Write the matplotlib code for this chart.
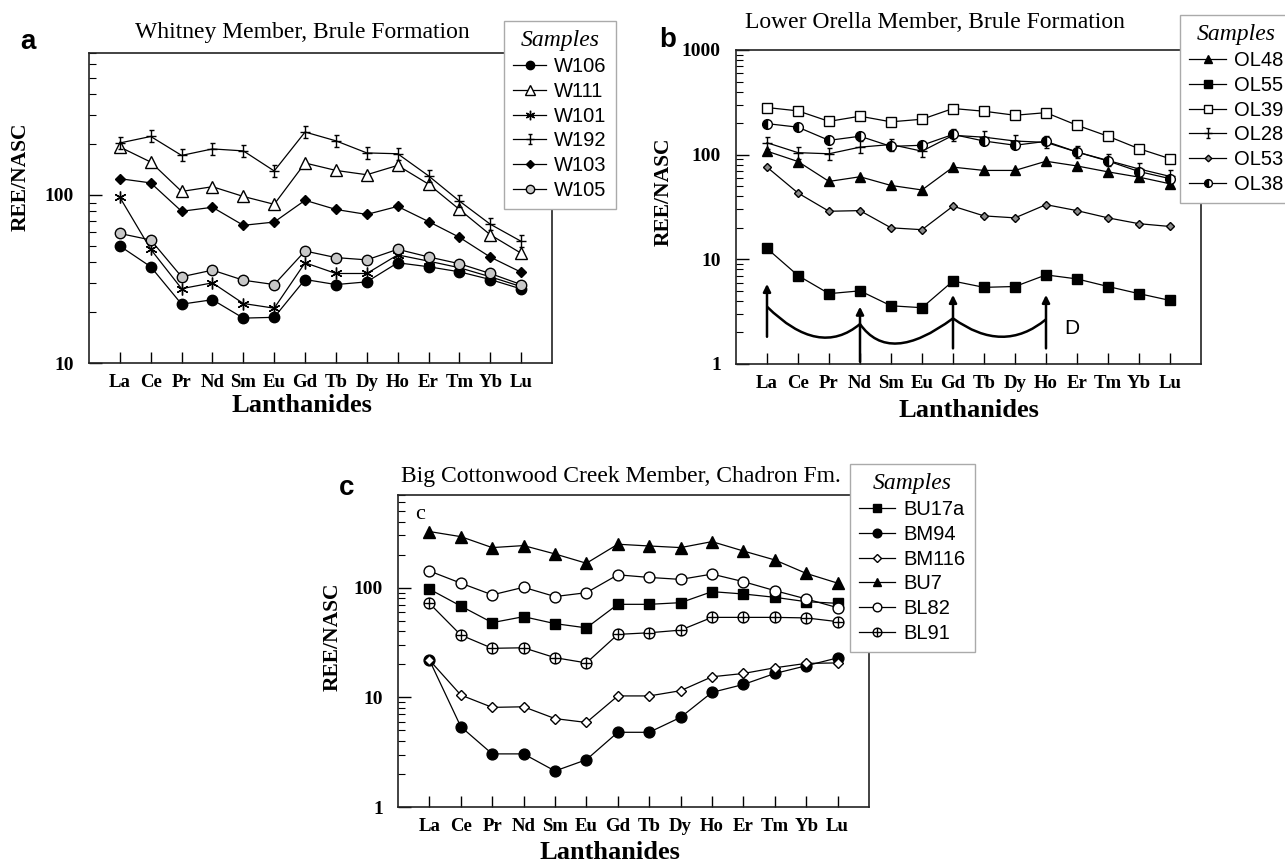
import numpy as np
import matplotlib
matplotlib.use('Agg')
import matplotlib.pyplot as plt
from matplotlib.path import Path
from matplotlib.patches import PathPatch
from matplotlib.ticker import LogLocator, NullFormatter

# ---------------- data ----------------
elements = ['La', 'Ce', 'Pr', 'Nd', 'Sm', 'Eu', 'Gd', 'Tb', 'Dy', 'Ho', 'Er', 'Tm', 'Yb', 'Lu']

# Panel a: Whitney Member, Brule Formation
W106 = [49.7, 37.4, 22.4, 23.8, 18.5, 18.7, 31.4, 29.3, 30.4, 39.5, 37.4, 34.9, 31.4, 27.6]
W111 = [193, 157, 105, 112, 98, 88, 155, 140, 132, 150, 116, 82, 58, 45]
W101 = [96.8, 47.5, 27.7, 30, 22.6, 21.2, 39.5, 34.1, 34.1, 44, 40.4, 36.9, 32.6, 28.5]
W192 = [204, 223, 172, 188, 183, 139, 237, 210, 178, 176, 130, 92, 67, 53]
W103 = [125, 118, 80, 84.5, 66, 69, 93, 82, 76.6, 85.5, 69.5, 56, 42.7, 34.7]
W105 = [59, 54, 32.6, 35.7, 31.1, 29.3, 46.4, 42.4, 41.1, 47.5, 42.8, 39, 34.1, 29.3]

# Panel b: Lower Orella Member, Brule Formation
OL48 = [108, 86, 55.5, 61.5, 50.8, 46, 76, 70.7, 70.7, 86.5, 78, 68.5, 61, 52.7]
OL55 = [12.7, 7.0, 4.7, 5.0, 3.6, 3.45, 6.2, 5.4, 5.5, 7.1, 6.5, 5.5, 4.7, 4.05]
OL39 = [282, 262, 208, 233, 206, 218, 276, 260, 238, 252, 191, 150, 114, 91.5]
OL28 = [130, 104.5, 102, 118, 125, 108, 153, 147, 135, 131, 106, 88, 73, 62]
OL53 = [76, 43, 28.8, 29.2, 20, 19.2, 32.2, 26, 24.9, 33.3, 29.2, 24.9, 21.9, 20.6]
OL38 = [198, 183, 137, 150, 120, 123, 156, 135, 123, 134, 106, 87, 69, 59]

# Panel c: Big Cottonwood Creek Member, Chadron Fm.
BU17a = [97, 68, 48, 54.4, 47, 43, 70.5, 70.5, 73, 92, 87.6, 81.7, 74.5, 72]
BM94 = [21.9, 5.4, 3.05, 3.05, 2.13, 2.7, 4.8, 4.8, 6.57, 11.1, 13.1, 16.5, 19.4, 22.9]
BM116 = [21.9, 10.5, 8.1, 8.2, 6.4, 5.9, 10.3, 10.3, 11.5, 15.4, 16.5, 18.6, 20.4, 20.6]
BU7 = [325, 292, 232, 242, 203, 167, 249, 240, 232, 263, 216, 179, 135, 110]
BL82 = [142, 110, 86, 100.8, 83, 90, 131, 124, 119, 133, 113.5, 94, 79, 65.7]
BL91 = [72, 37, 28, 28.3, 23, 20.6, 37.5, 38.8, 41, 53.6, 53.6, 53.6, 53, 49]

# Tetrad-effect sketch ("D") in panel b
tetrad_peak_idx = [0, 3, 6, 9]            # La, Nd, Gd, Ho
tetrad_peak_val = [3.53, 2.41, 2.73, 2.67]
tetrad_trough_pos = [1.59, 4.22, 7.56]
tetrad_trough_val = [1.82, 1.57, 1.82]
arrow_bottom = [1.82, 1.05, 1.41, 1.41]
arrow_top = [5.82, 3.53, 4.57, 4.57]

titles = ['Whitney Member, Brule Formation',
          'Lower Orella Member, Brule Formation',
          'Big Cottonwood Creek Member, Chadron Fm.']

# ---------------- style ----------------
SERIF = 'Liberation Serif'
SANS = 'Liberation Sans'
plt.rcParams['font.family'] = [SERIF, 'DejaVu Serif']

W, H = 1285, 867
fig = plt.figure(figsize=(W / 100, H / 100), dpi=100)
fig.patch.set_facecolor('white')


def px_axes(l, t, r, b):
    return fig.add_axes([l / W, 1 - b / H, (r - l) / W, (b - t) / H])


axA = px_axes(89, 53, 552, 363)
axB = px_axes(736, 50, 1201, 364)
axC = px_axes(398, 495, 869, 807)

# custom markers
errcross = Path([(0, -1), (0, 1), (-0.4, 1), (0.4, 1), (-0.4, -1), (0.4, -1), (-0.85, 0), (0.85, 0)],
                [Path.MOVETO, Path.LINETO] * 4)
circplus = Path.make_compound_path(Path.unit_circle(),
                                   Path([(-1, 0), (1, 0)], [Path.MOVETO, Path.LINETO]),
                                   Path([(0, -1), (0, 1)], [Path.MOVETO, Path.LINETO]))
asterisk = (6, 2, 0)

x = np.arange(len(elements))


def draw(ax, vals, label, marker, ms, fc, fcalt=None, fillstyle='full'):
    kw = dict(color='black', lw=0.9, marker=marker, ms=ms, mfc=fc, mec='black',
              mew=1.0, label=label, fillstyle=fillstyle)
    if fcalt is not None:
        kw['markerfacecoloralt'] = fcalt
    ax.plot(x, vals, **kw)


# panel a
draw(axA, W106, 'W106', 'o', 7.5, 'black')
draw(axA, W111, 'W111', '^', 8.5, 'white')
draw(axA, W101, 'W101', asterisk, 8.5, 'black')
draw(axA, W192, 'W192', errcross, 9, 'none')
draw(axA, W103, 'W103', 'D', 5.2, 'black')
draw(axA, W105, 'W105', 'o', 7.5, '#c8c8c8')

# panel b
draw(axB, OL48, 'OL48', '^', 7.5, 'black')
draw(axB, OL55, 'OL55', 's', 7, 'black')
draw(axB, OL39, 'OL39', 's', 7, 'white')
draw(axB, OL28, 'OL28', errcross, 9, 'none')
draw(axB, OL53, 'OL53', 'D', 4.2, '#8c8c8c')
draw(axB, OL38, 'OL38', 'o', 7, 'black', fcalt='white', fillstyle='left')

# panel c
draw(axC, BU17a, 'BU17a', 's', 7, 'black')
draw(axC, BM94, 'BM94', 'o', 7.8, 'black')
draw(axC, BM116, 'BM116', 'D', 5.0, 'white')
draw(axC, BU7, 'BU7', '^', 8, 'black')
draw(axC, BL82, 'BL82', 'o', 7.8, 'white')
draw(axC, BL91, 'BL91', circplus, 7.8, 'white')


def style_axes(ax, ylim, majors):
    ax.set_yscale('log')
    ax.set_xlim(-1, 14)
    ax.set_ylim(*ylim)
    ax.set_xticks(x, labels=elements, fontweight='bold', fontsize=13.5)
    ax.set_yticks(majors, labels=[f'{m:g}' for m in majors], fontweight='bold', fontsize=14)
    ax.yaxis.set_minor_locator(LogLocator(base=10, subs=np.arange(2, 10)))
    ax.yaxis.set_minor_formatter(NullFormatter())
    ax.set_ylim(*ylim)
    ax.tick_params(axis='x', direction='in', length=8, width=1, pad=8, top=False)
    ax.tick_params(axis='y', which='major', direction='in', length=9, width=1, pad=11, right=False)
    ax.tick_params(axis='y', which='minor', direction='in', length=5, width=0.8, right=False)
    for s in ax.spines.values():
        s.set_linewidth(1.2)
        s.set_color('#222222')


style_axes(axA, (10, 700), [10, 100])
style_axes(axB, (1, 1000), [1, 10, 100, 1000])
style_axes(axC, (1, 700), [1, 10, 100])

# axis labels
label_pos = {axA: (-0.127, 0.60, 0.46, -0.10),
             axB: (-0.133, 0.548, 0.50, -0.11),
             axC: (-0.117, 0.545, 0.45, -0.11)}
for ax, (yx, yy, xx, xy) in label_pos.items():
    ax.set_ylabel('REE/NASC', fontweight='bold', fontsize=15.5)
    ax.yaxis.set_label_coords(yx, yy)
    ax.set_xlabel('Lanthanides', fontweight='bold', fontsize=19)
    ax.xaxis.set_label_coords(xx, xy)

# titles
axA.text(0.46, 1.065, titles[0], transform=axA.transAxes, ha='center', va='center', fontsize=17)
axB.text(0.427, 1.086, titles[1], transform=axB.transAxes, ha='center', va='center', fontsize=17)
axC.text(0.473, 1.058, titles[2], transform=axC.transAxes, ha='center', va='center', fontsize=17)

# panel letters
for (px, py), t in zip([(28, 42), (668, 40), (347, 488)], ['a', 'b', 'c']):
    fig.text(px / W, 1 - py / H, t, ha='center', va='center', fontsize=20,
             fontweight='bold', family=SANS)
axC.text(-0.31, 461, 'c', ha='center', va='center', fontsize=16)

# tetrad sketch in panel b
for xi, yb, yt in zip(tetrad_peak_idx, arrow_bottom, arrow_top):
    axB.annotate('', xy=(xi, yt), xytext=(xi, yb),
                 arrowprops=dict(arrowstyle='-|>', lw=1.8, color='black',
                                 mutation_scale=11, shrinkA=0, shrinkB=0))
verts = [(tetrad_peak_idx[0], tetrad_peak_val[0])]
codes = [Path.MOVETO]
for i in range(3):
    x0, y0 = tetrad_peak_idx[i], tetrad_peak_val[i]
    x1, y1 = tetrad_peak_idx[i + 1], tetrad_peak_val[i + 1]
    xm, ym = tetrad_trough_pos[i], tetrad_trough_val[i]
    cx = 2 * xm - (x0 + x1) / 2
    cy = 10 ** (2 * np.log10(ym) - (np.log10(y0) + np.log10(y1)) / 2)
    verts += [(cx, cy), (x1, y1)]
    codes += [Path.CURVE3, Path.CURVE3]
axB.add_patch(PathPatch(Path(verts, codes), fill=False, lw=1.8, edgecolor='black',
                        transform=axB.transData))
axB.text(9.83, 2.19, 'D', ha='center', va='center', fontsize=15, family=SANS)


# legends
def add_legend(ax, left_px, top_px, hl):
    leg = ax.legend(loc='upper left', bbox_to_anchor=(left_px / W, 1 - top_px / H),
                    bbox_transform=fig.transFigure, title='Samples',
                    title_fontproperties={'family': SERIF, 'style': 'italic', 'size': 17},
                    prop={'family': SANS, 'size': 14.5}, frameon=True, fancybox=False,
                    edgecolor='#aaaaaa', framealpha=1, borderaxespad=0, borderpad=0.45,
                    labelspacing=0.29, handlelength=hl, handletextpad=0.4,
                    markerscale=0.8, numpoints=1)
    leg.get_frame().set_linewidth(1.0)
    return leg


add_legend(axA, 504, 21, 1.65)
add_legend(axB, 1180, 15, 1.85)
add_legend(axC, 850, 464, 1.8)

fig.savefig('out.png', dpi=100, facecolor='white')
